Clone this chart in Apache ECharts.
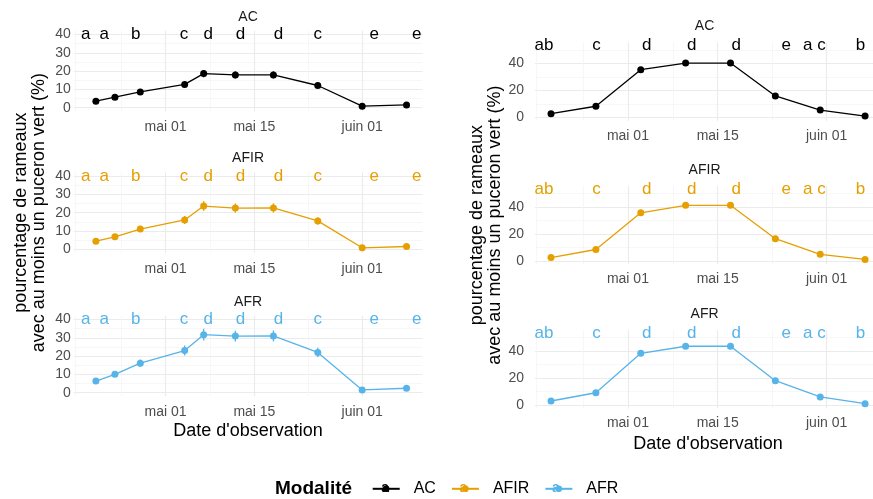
<!DOCTYPE html>
<html><head><meta charset="utf-8">
<script src="https://cdn.jsdelivr.net/npm/echarts@6/dist/echarts.min.js"></script>
<style>html,body{margin:0;padding:0;background:#fff}#c{width:873px;height:499px}</style>
</head><body><div id="c"></div>
<script>
// x values are days relative to 1 May (mai 01)
const xTickDays = [0, 14, 31];
const xTickLabels = ['mai 01', 'mai 15', 'juin 01'];
const xMinorDays = [-14.3, -7, 7, 22.5];

// Left column (10 observation dates)
const daysL = [-11, -8, -4, 3, 6, 11, 17, 24, 31, 38];
const acL = [3.5, 5.7, 8.6, 12.7, 18.6, 17.9, 17.9, 12.1, 0.8, 1.5];
const afirL = [4.4, 6.8, 11.0, 16.0, 23.6, 22.5, 22.6, 15.5, 0.8, 1.5];
const afrL = [6.3, 10.0, 16.1, 23.0, 31.7, 30.9, 31.0, 22.0, 1.5, 2.4];
const errAcL = [0.8, 1.0, 1.2, 1.6, 2.0, 1.9, 1.9, 1.5, 0.4, 0.6];
const errAfirL = [1.0, 1.3, 1.6, 2.2, 2.6, 2.5, 2.5, 2.0, 0.6, 0.6];
const errAfrL = [1.2, 1.5, 2.0, 2.7, 3.2, 3.0, 3.0, 2.5, 0.8, 0.8];
const lettersL = ['a', 'a', 'b', 'c', 'd', 'd', 'd', 'c', 'e', 'e'];
const letterXL = [-12.6, -9.7, -4.7, 2.9, 6.7, 11.8, 17.8, 24.0, 32.9, 39.6];
const letterYL = 40;
const yLabelsL = [0, 10, 20, 30, 40];
const yMinorL = [5, 15, 25, 35];

// Right column (8 observation dates)
const daysR = [-12, -5, 2, 9, 16, 23, 30, 37];
const acR = [2.8, 8.3, 35.3, 40.2, 40.2, 15.9, 5.5, 1.1];
const afirR = [2.5, 8.5, 35.6, 41.1, 41.1, 16.5, 4.9, 1.2];
const afrR = [3.1, 9.2, 38.3, 43.5, 43.5, 18.1, 6.1, 1.1];
const lettersR = ['ab', 'c', 'd', 'd', 'd', 'e', 'a c', 'b'];
const letterXR = [-13.1, -4.9, 2.95, 9.95, 16.9, 24.7, 29.1, 36.3];
const letterYR = 53;
const yLabelsR = [0, 20, 40];
const yMinorR = [10, 30, 50];

const modalites = ['AC', 'AFIR', 'AFR'];
const colors = {AC: '#000000', AFIR: '#E69F00', AFR: '#56B4E9'};

const FONT = '"Liberation Sans", Arial, Helvetica, sans-serif';
const GRID_MAJOR = '#EBEBEB';
const GRID_MINOR = '#F3F3F3';

const sides = {
  L: {xMin: -14.5, xMax: 40.5, yMin: -2, yMax: 42, yInt: 1, yLabels: yLabelsL, yMinor: yMinorL,
      days: daysL, letters: lettersL, letterX: letterXL, letterY: letterYL, yMargin: 3, xMargin: 9},
  R: {xMin: -14.5, xMax: 39.5, yMin: -2.5, yMax: 55.5, yInt: 0.5, yLabels: yLabelsR, yMinor: yMinorR,
      days: daysR, letters: lettersR, letterX: letterXR, letterY: letterYR, yMargin: 11, xMargin: 8}
};

const panels = [
  {side: 'L', name: 'AC', vals: acL, err: errAcL, grid: {left: 73.7, top: 30.8, width: 348.7, height: 80.5}},
  {side: 'L', name: 'AFIR', vals: afirL, err: errAfirL, grid: {left: 73.7, top: 172.4, width: 348.7, height: 80.5}},
  {side: 'L', name: 'AFR', vals: afrL, err: errAfrL, grid: {left: 73.7, top: 315.8, width: 348.7, height: 80.5}},
  {side: 'R', name: 'AC', vals: acR, err: null, grid: {left: 535, top: 42.3, width: 346.1, height: 78.6}},
  {side: 'R', name: 'AFIR', vals: afirR, err: null, grid: {left: 535, top: 185.8, width: 346.1, height: 78.6}},
  {side: 'R', name: 'AFR', vals: afrR, err: null, grid: {left: 535, top: 330.0, width: 346.1, height: 78.6}}
];

const near = (a, b) => Math.abs(a - b) < 1e-6;

const grids = [], xAxes = [], yAxes = [], series = [], graphics = [];

panels.forEach((p, i) => {
  const s = sides[p.side];
  const col = colors[p.name];
  grids.push(Object.assign({outerBoundsMode: 'none', containLabel: false}, p.grid));
  const isBottom = p.name === 'AFR';
  const isMid = p.name === 'AFIR';
  xAxes.push({
    type: 'value', gridIndex: i, min: s.xMin, max: s.xMax, interval: 0.5,
    axisLine: {show: false}, axisTick: {show: false}, splitLine: {show: false},
    axisLabel: {
      margin: s.xMargin, fontSize: 14, color: '#4D4D4D', fontFamily: FONT,
      showMinLabel: true, showMaxLabel: true,
      formatter: v => { const k = xTickDays.findIndex(t => near(t, v)); return k >= 0 ? xTickLabels[k] : ''; }
    },
    name: isBottom ? "Date d'observation" : '',
    nameLocation: 'middle', nameGap: 26,
    nameTextStyle: {fontSize: 18, color: '#000', fontFamily: FONT}
  });
  yAxes.push({
    type: 'value', gridIndex: i, min: s.yMin, max: s.yMax, interval: s.yInt,
    axisLine: {show: false}, axisTick: {show: false}, splitLine: {show: false},
    axisLabel: {
      margin: s.yMargin, fontSize: 14, color: '#4D4D4D', fontFamily: FONT,
      formatter: v => { const k = s.yLabels.findIndex(t => near(t, v)); return k >= 0 ? String(s.yLabels[k]) : ''; }
    },
    name: isMid ? 'pourcentage de rameaux\navec au moins un puceron vert (%)' : '',
    nameLocation: 'middle', nameRotate: 90, nameGap: p.side === 'L' ? 26 : 30,
    nameTextStyle: {fontSize: 18, color: '#000', fontFamily: FONT, lineHeight: 18}
  });

  // gridlines through the axes' own scales
  const ml = [];
  s.yLabels.forEach(v => ml.push({yAxis: v, lineStyle: {color: GRID_MAJOR, width: 1.1}}));
  s.yMinor.forEach(v => ml.push({yAxis: v, lineStyle: {color: GRID_MINOR, width: 0.7}}));
  xTickDays.forEach(v => ml.push({xAxis: v, lineStyle: {color: GRID_MAJOR, width: 1.1}}));
  xMinorDays.forEach(v => ml.push({xAxis: v, lineStyle: {color: GRID_MINOR, width: 0.7}}));
  series.push({
    type: 'line', xAxisIndex: i, yAxisIndex: i, data: [], z: 0, silent: true, animation: false,
    markLine: {z: 0, silent: true, animation: false, symbol: ['none', 'none'], label: {show: false},
      lineStyle: {type: 'solid'}, emphasis: {disabled: true}, data: ml}
  });

  if (p.err) {
    series.push({
      type: 'custom', xAxisIndex: i, yAxisIndex: i, z: 6, silent: true, animation: false,
      data: s.days.map((d, k) => [d, p.vals[k], p.err[k]]),
      renderItem: (params, api) => {
        const x = api.value(0), y = api.value(1), e = api.value(2);
        const a = api.coord([x, y - e]), b = api.coord([x, y + e]);
        return {type: 'line', shape: {x1: a[0], y1: a[1], x2: b[0], y2: b[1]},
          style: {stroke: col, lineWidth: 1.3}};
      }
    });
  }

  series.push({
    name: p.name, type: 'line', xAxisIndex: i, yAxisIndex: i, z: 7, animation: false,
    data: s.days.map((d, k) => [d, p.vals[k]]),
    symbol: 'circle', symbolSize: 7, showSymbol: true,
    lineStyle: {color: col, width: 1.3}, itemStyle: {color: col},
    emphasis: {disabled: true}
  });

  series.push({
    type: 'custom', xAxisIndex: i, yAxisIndex: i, z: 8, silent: true, animation: false,
    data: s.letterX.map((d, k) => [d, s.letterY, k]),
    renderItem: (params, api) => {
      const c = api.coord([api.value(0), api.value(1)]);
      return {type: 'text', x: c[0], y: c[1],
        style: {text: s.letters[api.value(2)], fill: col, font: '17px ' + FONT,
          align: 'center', verticalAlign: 'middle'}};
    }
  });

  graphics.push({type: 'text',
    x: p.grid.left + p.grid.width / 2 - (p.side === 'R' ? 3.5 : 0), y: p.grid.top - (p.side === 'L' ? 14 : 16),
    style: {text: p.name, fill: '#1A1A1A', font: '14px ' + FONT, align: 'center', verticalAlign: 'middle'}});
});

// legend title and key letters
graphics.push({type: 'text', x: 275, y: 488.5,
  style: {text: 'Modalité', fill: '#000', font: 'bold 19px ' + FONT, align: 'left', verticalAlign: 'middle'}});
const keyCenters = [385.2, 463.4, 556];
modalites.forEach((m, k) => {
  graphics.push({type: 'text', x: keyCenters[k], y: 488.5, z: 100,
    style: {text: 'a', fill: colors[m], font: 'bold 14px ' + FONT, align: 'center', verticalAlign: 'middle'}});
});

const chart = echarts.init(document.getElementById('c'), null, {renderer: 'canvas'});
const option = {
  animation: false,
  backgroundColor: '#ffffff',
  textStyle: {fontFamily: FONT},
  grid: grids, xAxis: xAxes, yAxis: yAxes, series: series,
  legend: {
    data: modalites, left: 371.7, top: 480.8, orient: 'horizontal', padding: 0,
    itemWidth: 27, itemHeight: 8, itemGap: 15, selectedMode: false,
    textStyle: {fontSize: 16, color: '#000', fontFamily: FONT, padding: [0, 0, 0, 9]}
  },
  graphic: graphics
};
chart.setOption(option);
</script></body></html>
